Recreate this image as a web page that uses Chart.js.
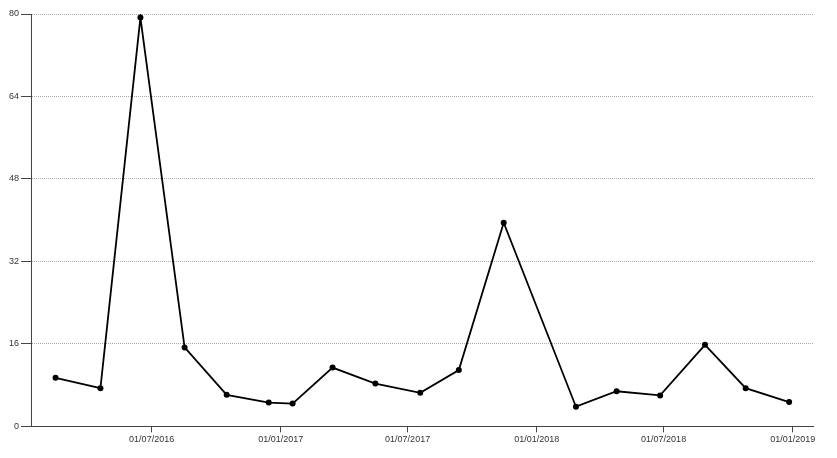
<!DOCTYPE html>
<html>
<head>
<meta charset="utf-8">
<script src="https://cdn.jsdelivr.net/npm/chart.js@4/dist/chart.umd.min.js"></script>
<style>
  html, body { margin: 0; padding: 0; background: #fff; }
  #wrap { width: 837px; height: 458px; }
</style>
</head>
<body>
<div id="wrap"><canvas id="chart" width="837" height="458"></canvas></div>
<script>
// data
const pointDates = [
    "2016-02-15", "2016-04-19", "2016-06-15", "2016-08-17", "2016-10-16", "2016-12-15",
    "2017-01-18", "2017-03-16", "2017-05-16", "2017-07-19", "2017-09-12", "2017-11-15",
    "2018-02-26", "2018-04-25", "2018-06-26", "2018-08-29", "2018-10-26", "2018-12-27"
];
const pointValues = [9.4, 7.4, 79.3, 15.3, 6.1, 4.6, 4.4, 11.4, 8.3, 6.5, 10.9, 39.5, 3.8, 6.8, 6.0, 15.8, 7.4, 4.7];

const xTickDates = ["2016-07-01", "2017-01-01", "2017-07-01", "2018-01-01", "2018-07-01", "2019-01-01"];
const xTickLabels = ["01/07/2016", "01/01/2017", "01/07/2017", "01/01/2018", "01/07/2018", "01/01/2019"];
const yTicks = [0, 16, 32, 48, 64, 80];

const xMin = "2016-01-11";
const xMax = "2019-01-30";

// yyyy-mm-dd -> ms (UTC)
function toTs(s) {
    const p = s.split("-").map(Number);
    return Date.UTC(p[0], p[1] - 1, p[2]);
}

const points = pointDates.map((d, i) => ({ x: toTs(d), y: pointValues[i] }));
const labelByTs = {};
xTickDates.forEach((d, i) => { labelByTs[toTs(d)] = xTickLabels[i]; });

const axisColor = "#444";
const font = { family: "'Liberation Sans', Arial, sans-serif", size: 9 };

new Chart(document.getElementById("chart"), {
    type: "line",
    data: {
        datasets: [{
            data: points,
            borderColor: "#000",
            backgroundColor: "#000",
            borderWidth: 1.8,
            pointRadius: 3,
            pointHoverRadius: 3,
            pointBorderWidth: 0,
            tension: 0,
            fill: false
        }]
    },
    options: {
        responsive: false,
        animation: false,
        layout: { padding: { top: 14, right: 24, left: 0, bottom: 0 } },
        plugins: {
            legend: { display: false },
            tooltip: { enabled: false }
        },
        scales: {
            x: {
                type: "linear",
                min: toTs(xMin),
                max: toTs(xMax),
                afterBuildTicks: (scale) => {
                    scale.ticks = xTickDates.map(d => ({ value: toTs(d) }));
                },
                afterFit: (scale) => { scale.height = 31.7; },
                grid: {
                    drawOnChartArea: false,
                    tickLength: 6,
                    tickColor: axisColor
                },
                border: { color: axisColor, width: 1 },
                ticks: {
                    autoSkip: false,
                    maxRotation: 0,
                    padding: 2,
                    color: "#333",
                    font: font,
                    callback: (v) => labelByTs[v] || ""
                }
            },
            y: {
                min: 0,
                max: 80,
                afterBuildTicks: (scale) => {
                    scale.ticks = yTicks.map(v => ({ value: v }));
                },
                afterFit: (scale) => { scale.width = 31; },
                grid: {
                    color: "#aaa",
                    tickLength: 10,
                    tickColor: axisColor,
                    tickBorderDash: []
                },
                border: { color: axisColor, width: 1, dash: [1, 1] },
                ticks: {
                    padding: 2,
                    color: "#333",
                    font: font
                }
            }
        }
    }
});
</script>
</body>
</html>
